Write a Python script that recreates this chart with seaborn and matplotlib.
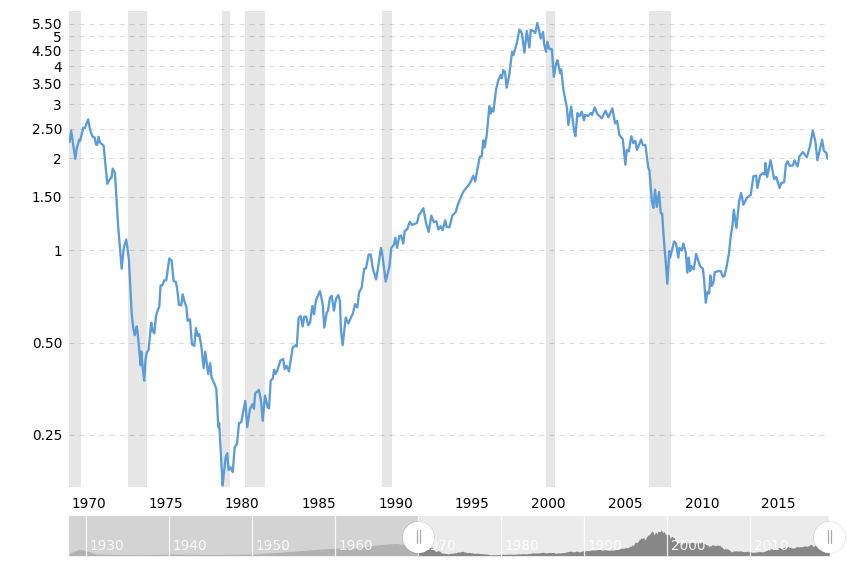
import numpy as np
import pandas as pd
import matplotlib
matplotlib.use("Agg")
import matplotlib.pyplot as plt
from matplotlib.patches import Rectangle
from matplotlib.ticker import NullLocator
import seaborn as sns

# ---- main series ----
years_a = [1968.72,1968.82,1969.09,1969.18,1969.35,1969.41,1969.61,1969.72,1969.93,1970.05,1970.22,1970.35,1970.44,1970.52,1970.61,1970.70,1970.94,1971.18,1971.35,1971.46,1971.53,1971.68,1971.89,1972.00,1972.12,1972.27,1972.42,1972.59,1972.77,1972.87,1972.97,1973.10,1973.16,1973.36,1973.40,1973.49,1973.59,1973.68,1973.77,1973.88,1974.05,1974.14,1974.25,1974.36,1974.51,1974.57,1974.66,1974.77,1974.90,1975.03,1975.23,1975.38,1975.51,1975.66,1975.75,1975.86,1976.01,1976.10,1976.21,1976.34,1976.43,1976.58,1976.71,1976.86,1976.97,1977.08,1977.18,1977.32,1977.47,1977.58,1977.77,1977.90,1977.99,1978.19,1978.30,1978.43,1978.49,1978.71,1978.80,1978.91,1979.01,1979.10,1979.23,1979.37,1979.50,1979.65,1979.78,1979.93]
ratio_a = [2.26,2.46,1.99,2.15,2.30,2.28,2.52,2.51,2.68,2.48,2.35,2.34,2.22,2.21,2.35,2.25,2.20,1.65,1.71,1.73,1.85,1.79,1.20,1.03,.872,1.03,1.086,.935,.627,.56,.529,.565,.54,.422,.468,.415,.376,.442,.465,.474,.581,.546,.537,.611,.646,.652,.769,.769,.799,.799,.942,.928,.795,.789,.746,.665,.662,.719,.684,.656,.589,.596,.494,.488,.558,.526,.534,.488,.413,.467,.395,.429,.385,.366,.353,.265,.273,.171,.189,.211,.218,.192,.196,.189,.228,.234,.273,.275]

years_b = [1980.19,1980.32,1980.50,1980.67,1980.76,1980.84,1980.95,1981.08,1981.22,1981.33,1981.48,1981.65,1981.74,1981.85,1981.98,1982.08,1982.15,1982.28,1982.48,1982.67,1982.76,1982.89,1983.04,1983.29,1983.48,1983.55,1983.68,1983.81,1983.94,1984.04,1984.17,1984.30,1984.42,1984.57,1984.68,1984.81,1985.07,1985.25,1985.35,1985.51,1985.59,1985.72,1985.83,1985.98,1986.11,1986.26,1986.37,1986.44,1986.55,1986.75,1986.92,1987.14,1987.21,1987.36,1987.51,1987.62,1987.79,1987.86,1987.96,1988.07,1988.25,1988.38,1988.51,1988.73,1988.86,1989.05,1989.14,1989.36,1989.60,1989.73,1989.90,1989.99]
ratio_b = [.323,.265,.304,.315,.304,.342,.345,.351,.323,.278,.336,.308,.305,.376,.382,.408,.395,.405,.437,.442,.41,.42,.403,.482,.49,.486,.604,.611,.565,.608,.608,.57,.581,.659,.619,.689,.737,.667,.56,.627,.635,.701,.711,.636,.694,.715,.685,.547,.491,.604,.578,.612,.62,.668,.652,.729,.756,.804,.872,.874,.97,.97,.878,.804,.878,1.02,.97,.791,.885,1.02,1.045,1.10]

years_c = [1990.10,1990.25,1990.36,1990.51,1990.60,1990.77,1990.93,1991.08,1991.40,1991.52,1991.82,1991.99,1992.17,1992.34,1992.50,1992.67,1992.80,1992.95,1993.08,1993.25,1993.34,1993.52,1993.71,1993.93,1994.07,1994.33,1994.48,1994.87,1995.08,1995.21,1995.34,1995.50,1995.63,1995.74,1995.83,1995.96,1996.13,1996.22,1996.28,1996.39,1996.57,1996.72,1996.87,1996.94,1997.04,1997.15,1997.26,1997.43,1997.61,1997.70,1997.92,1998.09,1998.25,1998.42,1998.57,1998.74,1998.83,1999.00,1999.13,1999.26,1999.49,1999.64,1999.70,1999.83,1999.92]
ratio_c = [1.02,1.113,1.119,1.054,1.156,1.176,1.24,1.212,1.23,1.30,1.374,1.23,1.15,1.30,1.237,1.246,1.17,1.2,1.165,1.255,1.194,1.19,1.30,1.333,1.41,1.52,1.568,1.66,1.754,1.68,1.835,2.02,2.03,2.29,2.17,2.385,2.96,2.80,2.91,2.84,3.36,3.60,3.74,3.65,3.88,3.83,3.40,3.74,4.45,4.34,4.74,5.26,5.13,4.42,5.21,4.60,5.24,5.2,5.13,5.53,4.92,5.17,4.74,4.45,4.80]

years_d = [2000.03,2000.21,2000.34,2000.49,2000.58,2000.75,2000.82,2000.97,2001.19,2001.29,2001.47,2001.65,2001.75,2001.88,2002.01,2002.16,2002.31,2002.38,2002.59,2002.75,2002.84,2003.01,2003.18,2003.47,2003.71,2003.90,2004.16,2004.34,2004.47,2004.62,2004.84,2005.01,2005.10,2005.23,2005.40,2005.53,2005.66,2005.77,2006.04,2006.15,2006.32,2006.51,2006.58,2006.74,2006.84,2006.95,2007.06,2007.21,2007.32,2007.41,2007.54,2007.67,2007.75,2007.88,2007.93,2008.04,2008.19,2008.32,2008.47,2008.54,2008.69,2008.80,2008.96,2009.06,2009.15,2009.24,2009.32,2009.48,2009.63,2009.78,2009.89]
ratio_d = [4.56,4.54,3.69,4.08,4.18,3.79,3.90,3.34,2.93,2.57,2.95,2.48,2.36,2.81,2.74,2.84,2.66,2.77,2.75,2.81,2.77,2.93,2.79,2.70,2.86,2.72,2.91,2.60,2.65,2.385,2.31,1.905,2.13,2.105,2.36,2.24,2.28,2.13,2.30,2.21,2.21,1.86,1.83,1.447,1.377,1.58,1.387,1.55,1.326,1.32,1.06,.889,.779,.995,.947,.995,1.07,1.054,.947,1.02,1.0,1.054,.983,.846,.947,.856,.889,.867,.975,.923,.889]

years_e = [2010.07,2010.15,2010.26,2010.37,2010.48,2010.56,2010.65,2010.76,2010.85,2011.09,2011.24,2011.37,2011.48,2011.63,2011.78,2011.89,2012.00,2012.09,2012.26,2012.44,2012.57,2012.72,2012.94,2013.20,2013.37,2013.55,2013.63,2013.81,2013.99,2014.12,2014.16,2014.27,2014.49,2014.73,2014.86,2015.08,2015.19,2015.38,2015.49,2015.60,2015.73,2015.95,2016.05,2016.25,2016.38,2016.60,2016.86,2017.06,2017.25,2017.42,2017.55,2017.68,2017.86,2017.97,2018.14,2018.21]
ratio_e = [.872,.805,.675,.732,.724,.829,.766,.785,.85,.856,.856,.821,.825,.889,.983,1.113,1.2,1.36,1.185,1.447,1.54,1.41,1.484,1.52,1.746,1.756,1.6,1.756,1.79,1.77,1.93,1.737,1.97,1.71,1.737,1.6,1.66,1.67,1.905,1.955,1.89,1.895,1.97,1.88,2.03,2.095,2.015,2.185,2.46,2.27,1.97,2.105,2.30,2.115,2.08,1.995]

# ---- earlier and later history shown only in the navigator ----
early_years = [1927.92,1929.2,1930.0,1931.2,1933.7,1936.8,1940.0,1944.9,1950.0,1952.5,1955.8,1957.8,1960.0,1962.2,1965.0,1967.4]
early_ratio = [.55,1.37,1.07,.36,.25,.2,.36,.25,.36,.64,1.07,1.37,1.6,1.6,2.3,2.65]
late_years = [2018.8,2019.5]
late_ratio = [2.1,2.1]

# ---- recession bands, axis ticks ----
band_start = [1968.68,1972.51,1978.65,1980.15,1989.14,1999.81,2006.54]
band_end   = [1969.48,1973.77,1979.17,1981.46,1989.79,2000.44,2008.01]
y_ticks  = [0.25,0.5,1,1.5,2,2.5,3,3.5,4,4.5,5,5.5]
y_labels = ["0.25","0.50","1","1.50","2","2.50","3","3.50","4","4.50","5","5.50"]
x_ticks  = [1970,1975,1980,1985,1990,1995,2000,2005,2010,2015]
nav_decades = [1930,1940,1950,1960,1970,1980,1990,2000,2010]
nav_split = 1970.0
nav_end = 2019.5

years = np.array(years_a + years_b + years_c + years_d + years_e)
ratio = np.array(ratio_a + ratio_b + ratio_c + ratio_d + ratio_e)
df = pd.DataFrame({"year": years, "ratio": ratio})

sns.set_theme(style="white")
plt.rcParams["font.family"] = ["DejaVu Sans"]
W, H = 847, 571
fig = plt.figure(figsize=(W/100, H/100), dpi=100, facecolor="white")

# ---- main panel ----
ax = fig.add_axes([69/W, 1-487/H, (827.5-69)/W, (487-11)/H])
ax.set_yscale("log")
ax.set_xlim(1968.68, 2018.21)
ax.set_ylim(0.169, 6.05)
for s, e in zip(band_start, band_end):
    ax.axvspan(s, e, color="#e6e6e6", lw=0, zorder=1)
for t in y_ticks:
    ax.axhline(t, xmax=0.997, color="black", alpha=0.14, lw=0.8, dashes=(4.5, 4.5), zorder=2)
sns.lineplot(data=df, x="year", y="ratio", ax=ax, estimator=None, sort=False,
             color="#5b9bd8", lw=1.65, zorder=3)
ax.yaxis.set_minor_locator(NullLocator())
ax.set_yticks(y_ticks)
ax.set_yticklabels(y_labels)
ax.set_xticks(x_ticks)
ax.set_xticklabels([str(v) for v in x_ticks])
ax.set_xlabel("")
ax.set_ylabel("")
ax.tick_params(axis="both", length=0, labelsize=9.8, labelcolor="#000000")
ax.tick_params(axis="y", pad=5)
ax.tick_params(axis="x", pad=7.5)
sns.despine(ax=ax, left=True, bottom=True)

# ---- navigator ----
nav = fig.add_axes([69/W, 1-555.7/H, (829.3-69)/W, 39.7/H])
nav_left = early_years[0]
nav.set_xlim(nav_left, nav_end)
nav.set_ylim(0, 8.5)
nav.axvspan(nav_left, nav_split, color="#d3d3d3", lw=0, zorder=0)
nav.axvspan(nav_split, nav_end, color="#ebebeb", lw=0, zorder=0)
full_x = np.concatenate([early_years, years, late_years])
full_y = np.concatenate([early_ratio, ratio, late_ratio])
a1 = nav.fill_between(full_x, full_y, 0, color="#b2b2b2", lw=0, zorder=1)
a1.set_clip_path(Rectangle((nav_left, 0), nav_split-nav_left, 8.5, transform=nav.transData))
a2 = nav.fill_between(full_x, full_y, 0, color="#878787", lw=0, zorder=1)
a2.set_clip_path(Rectangle((nav_split, 0), nav_end-nav_split, 8.5, transform=nav.transData))
for d in nav_decades:
    nav.axvline(d, color="white", lw=0.9, alpha=0.85, zorder=2)
    nav.text(d+0.42, 2.05, str(d), color="white", fontsize=9.8, va="center", ha="left",
             alpha=0.9, zorder=3)
nav.set_xticks([])
nav.set_yticks([])
sns.despine(ax=nav, left=True, bottom=True)

# navigator handles
for hx in (nav_split, nav_end):
    nav.scatter([hx], [3.9], s=560, color="black", alpha=0.10, lw=0, clip_on=False, zorder=5)
    nav.scatter([hx], [4.1], s=511, color="white", lw=0, clip_on=False, zorder=6)
    for off in (-0.2, 0.2):
        nav.plot([hx+off, hx+off], [2.7, 5.5], color="#aaaaaa", lw=0.9, clip_on=False, zorder=7)

fig.savefig("out.png", dpi=100, facecolor="white")
